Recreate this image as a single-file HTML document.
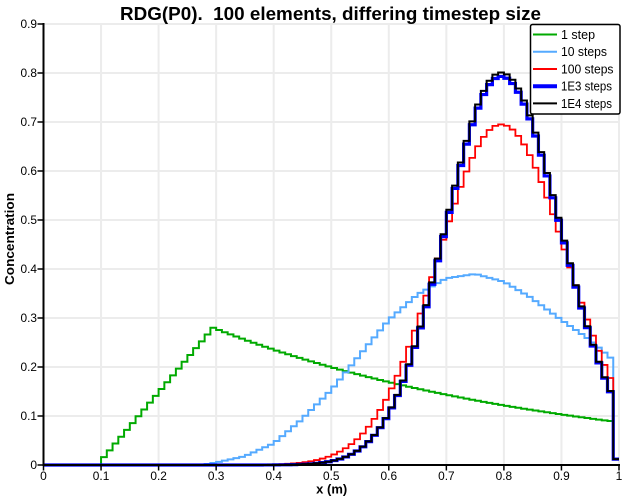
<!DOCTYPE html>
<html><head><meta charset="utf-8">
<style>
html,body{margin:0;padding:0;background:#fff;}
svg{display:block;}
text{font-family:"Liberation Sans",sans-serif;}
</style></head>
<body>
<svg id="s" width="639" height="504" xmlns="http://www.w3.org/2000/svg">
<rect x="0" y="0" width="639" height="504" fill="#fff"/>
<g id="grid" stroke="#ececec" stroke-width="2"></g>
<g id="series" fill="none" stroke-linejoin="miter"></g>
<g id="axes"></g>
<text x="330.5" y="20" font-size="18.5" font-weight="bold" text-anchor="middle" textLength="421" lengthAdjust="spacingAndGlyphs" xml:space="preserve">RDG(P0).&#160; 100 elements, differing timestep size</text>
<text transform="translate(14,239) rotate(-90)" font-size="12.5" font-weight="bold" text-anchor="middle" textLength="92" lengthAdjust="spacingAndGlyphs">Concentration</text>
<text x="331.7" y="493.5" font-size="12.5" font-weight="bold" text-anchor="middle" textLength="31" lengthAdjust="spacingAndGlyphs">x (m)</text>
<g id="legend">
<rect x="530.5" y="24.5" width="89.5" height="89.5" rx="2" fill="#fff" stroke="#000" stroke-width="1.5"/>
<line x1="533" y1="34.5" x2="557" y2="34.5" stroke="#00aa00" stroke-width="2"/>
<text x="561" y="39" font-size="12.5">1 step</text>
<line x1="533" y1="51.7" x2="557" y2="51.7" stroke="#55aaff" stroke-width="2"/>
<text x="561" y="56.2" font-size="12.5" textLength="46" lengthAdjust="spacingAndGlyphs">10 steps</text>
<line x1="533" y1="69" x2="557" y2="69" stroke="#ff0000" stroke-width="2"/>
<text x="561" y="73.5" font-size="12.5" textLength="52.5" lengthAdjust="spacingAndGlyphs">100 steps</text>
<line x1="533" y1="86.2" x2="557" y2="86.2" stroke="#0000ff" stroke-width="4"/>
<text x="561" y="90.7" font-size="12.5" textLength="51" lengthAdjust="spacingAndGlyphs">1E3 steps</text>
<line x1="533" y1="103.4" x2="557" y2="103.4" stroke="#000" stroke-width="2"/>
<text x="561" y="107.9" font-size="12.5" textLength="51" lengthAdjust="spacingAndGlyphs">1E4 steps</text>
</g>
</svg>
<script>
(function(){
var NS="http://www.w3.org/2000/svg";
function X(x){return 43.5+x*575.5;}
function Y(v){return 465-v*490;}
function el(tag,attrs,parent,txt){var e=document.createElementNS(NS,tag);for(var k in attrs)e.setAttribute(k,attrs[k]);if(txt!==undefined)e.textContent=txt;parent.appendChild(e);return e;}
var grid=document.getElementById('grid'),axes=document.getElementById('axes'),series=document.getElementById('series');
for(var i=1;i<=10;i++){var gx=X(i/10);el('line',{x1:gx,y1:24,x2:gx,y2:465},grid);}
for(var j=1;j<=9;j++){var gy=Y(j/10);el('line',{x1:43.5,y1:gy,x2:619,y2:gy},grid);}
el('line',{x1:43.5,y1:23,x2:43.5,y2:466,stroke:'#000','stroke-width':2},axes);
el('line',{x1:42.5,y1:465,x2:620,y2:465,stroke:'#000','stroke-width':2},axes);
var xl=['0','0.1','0.2','0.3','0.4','0.5','0.6','0.7','0.8','0.9','1'];
for(var i=0;i<=10;i++){var tx=X(i/10);el('line',{x1:tx,y1:465,x2:tx,y2:470.5,stroke:'#000','stroke-width':1.5},axes);
 var a={x:tx,y:480,'font-size':12,'text-anchor':'middle'};if(xl[i].length>1){a.textLength=16.5;a.lengthAdjust='spacingAndGlyphs';}
 el('text',a,axes,xl[i]);}
for(var j=0;j<=9;j++){var ty=Y(j/10);el('line',{x1:37.5,y1:ty,x2:43.5,y2:ty,stroke:'#000','stroke-width':1.5},axes);
 var b={x:37,y:ty+4,'font-size':12,'text-anchor':'end'};if(j>0){b.textLength=16.5;b.lengthAdjust='spacingAndGlyphs';}
 el('text',b,axes,j==0?'0':('0.'+j));}
function stair(f){var d='';for(var k=0;k<100;k++){var xm=(k+0.5)/100;var v=(k==99)?0.012:f(xm,k);if(v<0)v=0;
 var x0=X(k/100),x1=X((k+1)/100),y=Y(v);d+=(k==0?'M':'L')+x0.toFixed(2)+','+y.toFixed(2)+'L'+x1.toFixed(2)+','+y.toFixed(2);}return d;}
function gauss(a,c,sl,sr){return function(x){var s=x<c?sl:sr;return a*Math.exp(-(x-c)*(x-c)/(2*s*s));};}
var green=function(x,k){if(k<10)return 0;if(k<=29)return 0.016+(k-10)*0.0139;return 0.28*Math.exp(-1.65*(x-0.295));};
var pts=[[0,0],[0.25,0],[0.28,0.001],[0.3,0.005],[0.35,0.018],[0.4,0.044],[0.446,0.09],[0.5,0.153],[0.55,0.225],[0.6,0.296],[0.65,0.348],[0.7,0.381],[0.75,0.39],[0.8,0.374],[0.845,0.343],[0.9,0.296],[0.95,0.255],[0.99,0.214],[1,0.21]];
var lblue=function(x){for(var i=1;i<pts.length;i++){if(x<=pts[i][0]){var a=pts[i-1],b=pts[i];return a[1]+(b[1]-a[1])*(x-a[0])/(b[0]-a[0]);}}return 0.21;};
var defs=[[green,'#00aa00',2],[lblue,'#55aaff',2],[gauss(0.695,0.795,0.11,0.115),'#ff0000',1.8],[gauss(0.793,0.795,0.097,0.104),'#0000ff',3.2],[gauss(0.801,0.795,0.097,0.104),'#000000',2]];
defs.forEach(function(s){el('path',{d:stair(s[0]),stroke:s[1],'stroke-width':s[2]},series);});
})();
</script>
</body></html>
